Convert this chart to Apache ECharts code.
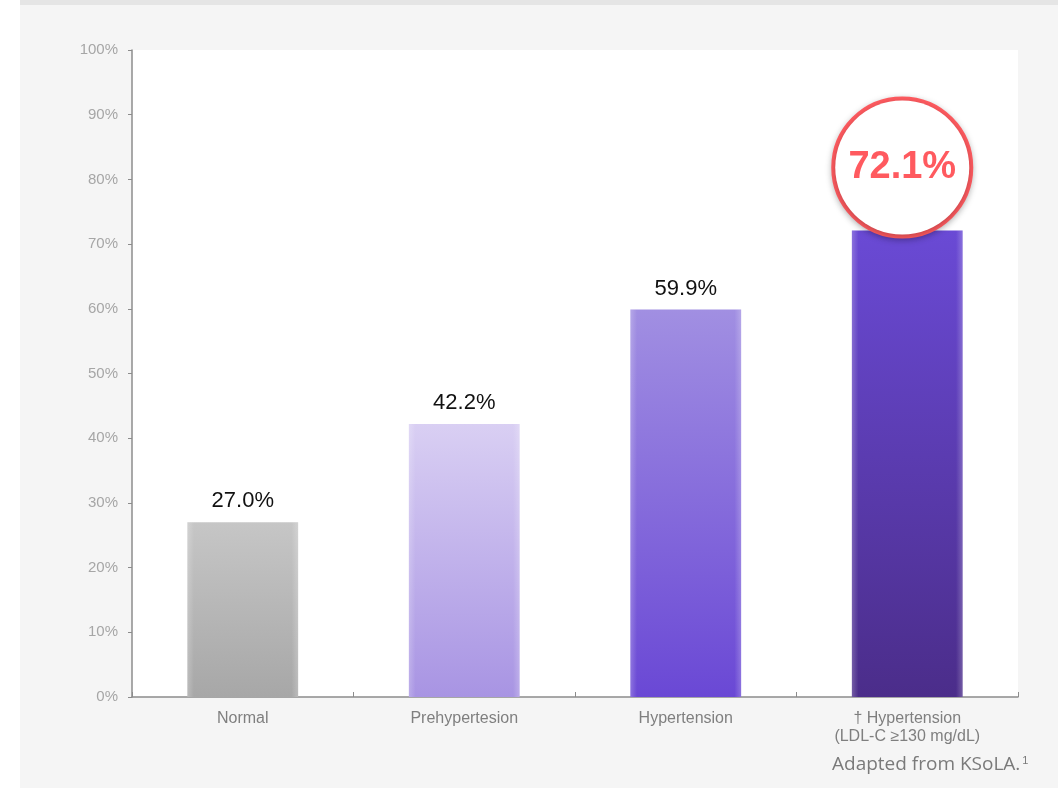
<!DOCTYPE html>
<html>
<head>
<meta charset="utf-8">
<script src="https://cdn.jsdelivr.net/npm/echarts@6/dist/echarts.min.js"></script>
<style>
  html, body { margin: 0; padding: 0; background: #ffffff; }
  #chart { width: 1058px; height: 788px; }
</style>
</head>
<body>
<div id="chart"></div>
<script>
// Prevalence by blood-pressure group
const categories = ['Normal', 'Prehypertesion', 'Hypertension', '† Hypertension\n(LDL-C ≥130 mg/dL)'];
const values = [27.0, 42.2, 59.9, 72.1];
const yTicks = [0, 10, 20, 30, 40, 50, 60, 70, 80, 90, 100];
const highlightIndex = 3;
const sourceNote = 'Adapted from KSoLA.';

// top/bottom colours of each bar's vertical gradient
const barColors = [
  ['#c6c6c6', '#a7a7a7'],
  ['#d9cff3', '#a894e3'],
  ['#a18fe2', '#6a48d5'],
  ['#6a4ad5', '#4b2d8a']
];

const chart = echarts.init(document.getElementById('chart'), null, { renderer: 'canvas' });

function vGrad(c) {
  return new echarts.graphic.LinearGradient(0, 0, 0, 1, [
    { offset: 0, color: c[0] },
    { offset: 1, color: c[1] }
  ]);
}

// soft light rim along the sides of each bar
const sideGlow = new echarts.graphic.LinearGradient(0, 0, 1, 0, [
  { offset: 0, color: 'rgba(255,255,255,0.22)' },
  { offset: 0.06, color: 'rgba(255,255,255,0)' },
  { offset: 0.94, color: 'rgba(255,255,255,0)' },
  { offset: 1, color: 'rgba(255,255,255,0.22)' }
]);

const barData = values.map((v, i) => {
  const item = { value: v, itemStyle: { color: vGrad(barColors[i]) } };
  if (i === highlightIndex) {
    // circled call-out for the highlighted group
    item.label = {
      show: true,
      position: 'top',
      distance: -8,
      offset: [-5, -4],
      formatter: (p) => p.value.toFixed(1) + '%',
      width: 134,
      height: 134,
      lineHeight: 134,
      align: 'center',
      borderRadius: 70,
      backgroundColor: '#ffffff',
      borderColor: '#ff5a5f',
      borderWidth: 4,
      shadowColor: 'rgba(0,0,0,0.25)',
      shadowBlur: 6,
      shadowOffsetY: 2,
      color: '#ff5a5f',
      fontSize: 38,
      fontWeight: 'bold',
      fontFamily: 'Liberation Sans, Arial, sans-serif'
    };
  }
  return item;
});

const option = {
  animation: false,
  backgroundColor: '#ffffff',
  graphic: [
    { type: 'rect', z: -10, shape: { x: 20, y: 0, width: 1038, height: 788 }, style: { fill: '#f5f5f5' } },
    { type: 'rect', z: -9, shape: { x: 20, y: 0, width: 1038, height: 5 }, style: { fill: '#e5e5e5' } },
    {
      type: 'text',
      left: 832,
      top: 755,
      style: {
        text: sourceNote + '{sup|1}',
        fill: '#7a7a7a',
        fontSize: 19,
        fontFamily: 'Open Sans, Noto Sans, sans-serif',
        rich: {
          sup: { fontSize: 11, verticalAlign: 'top', fill: '#7a7a7a', padding: [0, 0, 9, 2] }
        }
      }
    }
  ],
  grid: {
    left: 132,
    right: 40,
    top: 50,
    bottom: 91,
    show: true,
    backgroundColor: '#ffffff',
    borderWidth: 0
  },
  xAxis: {
    type: 'category',
    data: categories,
    axisLine: { lineStyle: { color: '#8c8c8c', width: 1.5 } },
    axisTick: { show: true, inside: true, length: 5, alignWithLabel: false, lineStyle: { color: '#8c8c8c' } },
    axisLabel: {
      color: '#7f7f7f',
      fontSize: 16,
      lineHeight: 18,
      margin: 13,
      fontFamily: 'Liberation Sans, Arial, sans-serif'
    }
  },
  yAxis: {
    type: 'value',
    min: 0,
    max: 100,
    interval: 10,
    axisLine: { show: true, lineStyle: { color: '#8c8c8c', width: 1.5 } },
    axisTick: { show: true, length: 4, lineStyle: { color: '#8c8c8c' } },
    splitLine: { show: false },
    axisLabel: {
      formatter: (v) => (yTicks.includes(v) ? v + '%' : ''),
      color: '#a6a6a6',
      fontSize: 15,
      margin: 14,
      fontFamily: 'Liberation Sans, Arial, sans-serif'
    }
  },
  series: [
    {
      type: 'bar',
      barWidth: '50%',
      data: barData,
      label: {
        show: true,
        position: 'top',
        distance: 10,
        formatter: (p) => p.value.toFixed(1) + '%',
        color: '#111111',
        fontSize: 22,
        fontFamily: 'Liberation Sans, Arial, sans-serif'
      },
      z: 2
    },
    {
      type: 'bar',
      barWidth: '50%',
      barGap: '-100%',
      silent: true,
      data: values,
      itemStyle: { color: sideGlow },
      z: 3
    }
  ]
};

chart.setOption(option);
</script>
</body>
</html>
